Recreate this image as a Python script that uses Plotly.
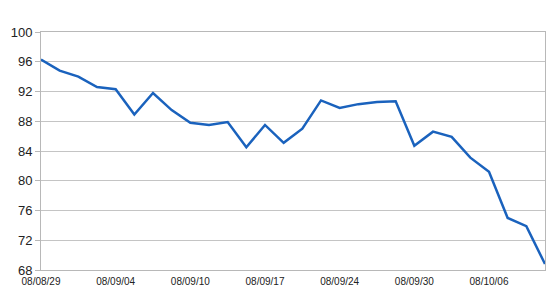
import plotly.graph_objects as go

dates = ["08/08/29", "08/09/01", "08/09/02", "08/09/03", "08/09/04", "08/09/05", "08/09/08",
         "08/09/09", "08/09/10", "08/09/11", "08/09/12", "08/09/16", "08/09/17", "08/09/18",
         "08/09/19", "08/09/22", "08/09/24", "08/09/25", "08/09/26", "08/09/29", "08/09/30",
         "08/10/01", "08/10/02", "08/10/03", "08/10/06", "08/10/07", "08/10/08", "08/10/09"]
values = [96.3, 94.8, 94.0, 92.6, 92.3, 88.9, 91.8, 89.5, 87.8, 87.5, 87.9, 84.5, 87.5, 85.1,
          87.0, 90.8, 89.8, 90.3, 90.6, 90.7, 84.7, 86.6, 85.9, 83.1, 81.2, 75.0, 73.9, 68.8]
tick_labels = ["08/08/29", "08/09/04", "08/09/10", "08/09/17", "08/09/24", "08/09/30", "08/10/06"]
y_ticks = [68, 72, 76, 80, 84, 88, 92, 96, 100]

fig = go.Figure()
fig.add_trace(go.Scatter(x=dates, y=values, mode="lines",
                         line=dict(color="#1a62bd", width=2.5)))

fig.update_layout(
    width=560, height=300,
    margin=dict(l=41, r=15, t=32, b=30),
    paper_bgcolor="white", plot_bgcolor="white",
    showlegend=False,
    font=dict(family="Liberation Sans, Arial, sans-serif", color="#222"),
)
fig.update_xaxes(
    type="category", range=[0, len(dates) - 1],
    tickmode="array", tickvals=tick_labels, ticktext=tick_labels,
    tickfont=dict(size=10), showgrid=False,
    showline=True, linecolor="#b8b8b8", linewidth=1, mirror=True,
    ticks="outside", ticklen=2, tickcolor="rgba(0,0,0,0)",
)
fig.update_yaxes(
    range=[68, 100], tickmode="array", tickvals=y_ticks,
    tickfont=dict(size=13), showgrid=True, gridcolor="#c4c4c4", gridwidth=1,
    showline=True, linecolor="#b8b8b8", linewidth=1, mirror=True,
    ticks="outside", ticklen=5, tickcolor="#b8b8b8", zeroline=False,
)
fig.write_html("out.html")
